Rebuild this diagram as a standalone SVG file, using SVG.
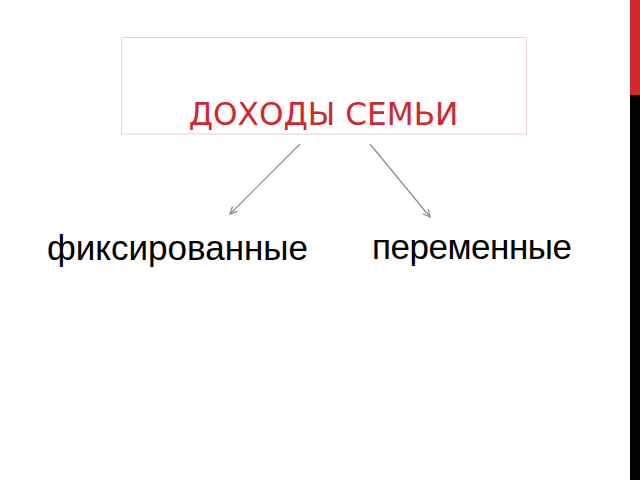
<svg xmlns="http://www.w3.org/2000/svg" width="640" height="480" viewBox="0 0 640 480">
<defs>
<style>
.title{font-family:"DejaVu Sans","Liberation Sans",sans-serif;font-size:31.2px;fill:#d0282e;}
.lbl{font-family:"Liberation Sans",Arial,sans-serif;font-size:35px;fill:#000;}
.conn{stroke:#8c8c8c;stroke-width:1.2;fill:none;}
</style>
<marker id="arr" viewBox="0 0 10 10" refX="9" refY="5" markerWidth="9" markerHeight="9" markerUnits="userSpaceOnUse" orient="auto">
<path d="M1,1 L9,5 L1,9" fill="none" stroke="#8c8c8c" stroke-width="1.4"/>
</marker>
</defs>
<rect width="640" height="480" fill="#fff"/>
<rect x="630" y="0" width="10" height="95" fill="#d0282e"/>
<rect x="630" y="95" width="10" height="385" fill="#000"/>
<g id="title">
<rect x="121.5" y="37.5" width="405" height="96.5" fill="#fff" stroke="#f2cfcf" stroke-width="1"/>
<text class="title" x="323.5" y="124.5" text-anchor="middle">ДОХОДЫ СЕМЬИ</text>
</g>
<g id="fixed">
<text class="lbl" x="47" y="259.5">фиксированные</text>
</g>
<g id="variable">
<text class="lbl" x="372" y="258.5" textLength="200">переменные</text>
</g>
<g id="connectors">
<line class="conn" x1="300" y1="144" x2="230" y2="214" marker-end="url(#arr)"/>
<line class="conn" x1="370" y1="144" x2="430" y2="217" marker-end="url(#arr)"/>
</g>
</svg>
